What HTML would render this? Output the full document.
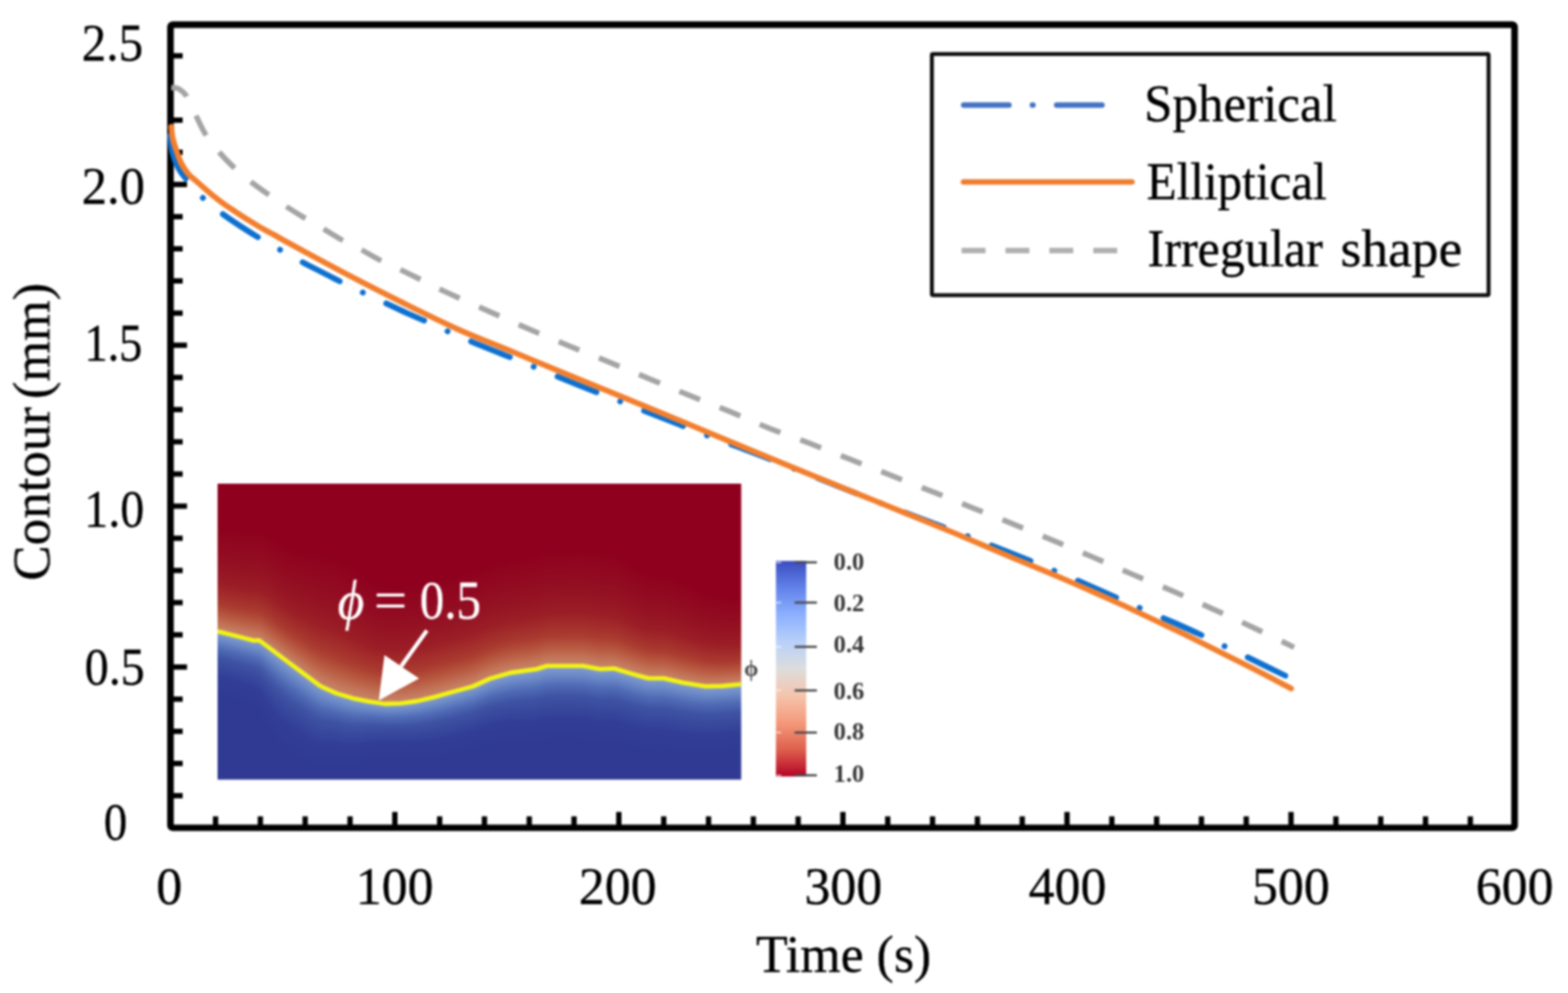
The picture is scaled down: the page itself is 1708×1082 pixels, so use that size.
<!DOCTYPE html>
<html lang="en">
<head>
<meta charset="utf-8">
<title>Contour vs Time</title>
<style>
html,body{margin:0;padding:0;background:#fff;}
body{width:1708px;height:1082px;overflow:hidden;}
svg{display:block;}
text{font-family:"Liberation Serif","DejaVu Serif",serif;fill:#000;stroke:#000;stroke-width:0.35px;}
</style>
</head>
<body>
<svg width="1708" height="1082" viewBox="0 0 1708 1082">
<rect width="1708" height="1082" fill="#fff"/>
<g id="chart" filter="url(#soft)">
<defs>
<filter id="soft" color-interpolation-filters="sRGB" filterUnits="userSpaceOnUse" x="0" y="0" width="1708" height="1082"><feGaussianBlur stdDeviation="0.85"/></filter>
<linearGradient id="tu" x1="0" x2="0" y1="1" y2="0"><stop offset="0" stop-color="#c7896e"/><stop offset="0.07" stop-color="#c3765a"/><stop offset="0.165" stop-color="#b75840"/><stop offset="0.26" stop-color="#aa3c30"/><stop offset="0.45" stop-color="#9b1e26"/><stop offset="0.63" stop-color="#941223"/><stop offset="0.82" stop-color="#910820"/><stop offset="1" stop-color="#8e001e"/></linearGradient>
<linearGradient id="td" x1="0" x2="0" y1="0" y2="1"><stop offset="0" stop-color="#869fd0"/><stop offset="0.13" stop-color="#6a88c6"/><stop offset="0.26" stop-color="#506bb6"/><stop offset="0.41" stop-color="#3e52a3"/><stop offset="0.7" stop-color="#323e96"/><stop offset="1" stop-color="#303a92"/></linearGradient>
<linearGradient id="cb" x1="0" x2="0" y1="0" y2="1"><stop offset="0" stop-color="#3b4cc0"/><stop offset="0.125" stop-color="#6282ea"/><stop offset="0.25" stop-color="#8db0fe"/><stop offset="0.375" stop-color="#b8d0f9"/><stop offset="0.5" stop-color="#dddddd"/><stop offset="0.625" stop-color="#f5c4ad"/><stop offset="0.75" stop-color="#f49a7b"/><stop offset="0.875" stop-color="#de604d"/><stop offset="1" stop-color="#b40426"/></linearGradient>
<clipPath id="ic"><rect x="237.0" y="527.0" width="570.4" height="322.6"/></clipPath>
<filter id="hb" color-interpolation-filters="sRGB" filterUnits="userSpaceOnUse" x="219.0" y="509.0" width="606.4" height="358.6"><feGaussianBlur stdDeviation="4.5 1.2"/></filter>
</defs>
<g clip-path="url(#ic)"><g filter="url(#hb)" shape-rendering="crispEdges">
<rect x="219.0" y="509.0" width="606.4" height="358.6" fill="#8e001e"/>
<path d="M219.0,867.6 L219.0,687.9 L236.9,687.9 L261.1,694.0 L276.9,698.1 L282.2,697.6 L296.3,708.1 L313.8,721.3 L331.4,734.5 L349.0,747.6 L366.5,755.5 L384.1,760.8 L401.7,764.3 L419.2,767.0 L436.8,766.4 L454.3,764.0 L471.9,759.9 L496.5,753.0 L515.0,748.0 L533.8,739.5 L556.3,733.0 L584.4,729.1 L595.7,725.6 L635.0,725.6 L653.8,729.1 L668.8,728.4 L687.6,734.0 L706.3,739.1 L723.2,739.1 L743.9,743.8 L768.2,747.9 L787.0,747.5 L807.0,745.7 L825.4,745.7 L825.4,867.6 Z" fill="#303a92"/>
<rect x="219.0" y="572.9" width="3.6" height="115.4" fill="url(#tu)"/><rect x="219.0" y="687.9" width="3.6" height="70.0" fill="url(#td)"/>
<rect x="222.0" y="572.9" width="3.6" height="115.4" fill="url(#tu)"/><rect x="222.0" y="687.9" width="3.6" height="70.0" fill="url(#td)"/>
<rect x="225.0" y="572.9" width="3.6" height="115.4" fill="url(#tu)"/><rect x="225.0" y="687.9" width="3.6" height="70.0" fill="url(#td)"/>
<rect x="228.0" y="572.9" width="3.6" height="115.4" fill="url(#tu)"/><rect x="228.0" y="687.9" width="3.6" height="70.0" fill="url(#td)"/>
<rect x="231.0" y="572.9" width="3.6" height="115.4" fill="url(#tu)"/><rect x="231.0" y="687.9" width="3.6" height="70.0" fill="url(#td)"/>
<rect x="234.0" y="572.9" width="3.6" height="115.4" fill="url(#tu)"/><rect x="234.0" y="687.9" width="3.6" height="70.0" fill="url(#td)"/>
<rect x="237.0" y="573.3" width="3.6" height="115.4" fill="url(#tu)"/><rect x="237.0" y="688.3" width="3.6" height="70.0" fill="url(#td)"/>
<rect x="240.0" y="573.9" width="3.6" height="115.5" fill="url(#tu)"/><rect x="240.0" y="689.1" width="3.6" height="70.1" fill="url(#td)"/>
<rect x="243.0" y="574.5" width="3.6" height="115.7" fill="url(#tu)"/><rect x="243.0" y="689.8" width="3.6" height="70.2" fill="url(#td)"/>
<rect x="246.0" y="574.9" width="3.6" height="116.1" fill="url(#tu)"/><rect x="246.0" y="690.6" width="3.6" height="70.5" fill="url(#td)"/>
<rect x="249.0" y="575.2" width="3.6" height="116.5" fill="url(#tu)"/><rect x="249.0" y="691.3" width="3.6" height="70.7" fill="url(#td)"/>
<rect x="252.0" y="575.5" width="3.6" height="117.0" fill="url(#tu)"/><rect x="252.0" y="692.1" width="3.6" height="71.0" fill="url(#td)"/>
<rect x="255.0" y="575.7" width="3.6" height="117.6" fill="url(#tu)"/><rect x="255.0" y="692.8" width="3.6" height="71.3" fill="url(#td)"/>
<rect x="258.0" y="575.8" width="3.6" height="118.2" fill="url(#tu)"/><rect x="258.0" y="693.6" width="3.6" height="71.5" fill="url(#td)"/>
<rect x="261.0" y="575.8" width="3.6" height="118.9" fill="url(#tu)"/><rect x="261.0" y="694.4" width="3.6" height="71.8" fill="url(#td)"/>
<rect x="264.0" y="575.9" width="3.6" height="119.7" fill="url(#tu)"/><rect x="264.0" y="695.1" width="3.6" height="71.9" fill="url(#td)"/>
<rect x="267.0" y="575.9" width="3.6" height="120.4" fill="url(#tu)"/><rect x="267.0" y="695.9" width="3.6" height="72.0" fill="url(#td)"/>
<rect x="270.0" y="576.0" width="3.6" height="121.1" fill="url(#tu)"/><rect x="270.0" y="696.7" width="3.6" height="72.1" fill="url(#td)"/>
<rect x="273.0" y="576.0" width="3.6" height="121.9" fill="url(#tu)"/><rect x="273.0" y="697.5" width="3.6" height="72.8" fill="url(#td)"/>
<rect x="276.0" y="575.9" width="3.6" height="122.6" fill="url(#tu)"/><rect x="276.0" y="698.0" width="3.6" height="74.2" fill="url(#td)"/>
<rect x="279.0" y="574.9" width="3.6" height="123.2" fill="url(#tu)"/><rect x="279.0" y="697.8" width="3.6" height="76.2" fill="url(#td)"/>
<rect x="282.0" y="575.2" width="3.6" height="123.8" fill="url(#tu)"/><rect x="282.0" y="698.6" width="3.6" height="78.6" fill="url(#td)"/>
<rect x="285.0" y="576.9" width="3.6" height="124.3" fill="url(#tu)"/><rect x="285.0" y="700.8" width="3.6" height="81.5" fill="url(#td)"/>
<rect x="288.0" y="578.7" width="3.6" height="124.7" fill="url(#tu)"/><rect x="288.0" y="703.0" width="3.6" height="84.5" fill="url(#td)"/>
<rect x="291.0" y="580.6" width="3.6" height="125.1" fill="url(#tu)"/><rect x="291.0" y="705.3" width="3.6" height="87.5" fill="url(#td)"/>
<rect x="294.0" y="582.6" width="3.6" height="125.3" fill="url(#tu)"/><rect x="294.0" y="707.5" width="3.6" height="90.4" fill="url(#td)"/>
<rect x="297.0" y="584.8" width="3.6" height="125.4" fill="url(#tu)"/><rect x="297.0" y="709.8" width="3.6" height="93.0" fill="url(#td)"/>
<rect x="300.0" y="587.0" width="3.6" height="125.4" fill="url(#tu)"/><rect x="300.0" y="712.0" width="3.6" height="95.2" fill="url(#td)"/>
<rect x="303.0" y="589.0" width="3.6" height="125.7" fill="url(#tu)"/><rect x="303.0" y="714.3" width="3.6" height="96.8" fill="url(#td)"/>
<rect x="306.0" y="590.8" width="3.6" height="126.2" fill="url(#tu)"/><rect x="306.0" y="716.5" width="3.6" height="97.8" fill="url(#td)"/>
<rect x="309.0" y="592.3" width="3.6" height="126.9" fill="url(#tu)"/><rect x="309.0" y="718.8" width="3.6" height="98.0" fill="url(#td)"/>
<rect x="312.0" y="593.6" width="3.6" height="127.9" fill="url(#tu)"/><rect x="312.0" y="721.1" width="3.6" height="97.9" fill="url(#td)"/>
<rect x="315.0" y="594.7" width="3.6" height="129.1" fill="url(#tu)"/><rect x="315.0" y="723.3" width="3.6" height="97.7" fill="url(#td)"/>
<rect x="318.0" y="595.6" width="3.6" height="130.4" fill="url(#tu)"/><rect x="318.0" y="725.6" width="3.6" height="97.3" fill="url(#td)"/>
<rect x="321.0" y="596.3" width="3.6" height="131.9" fill="url(#tu)"/><rect x="321.0" y="727.8" width="3.6" height="96.9" fill="url(#td)"/>
<rect x="324.0" y="596.9" width="3.6" height="133.5" fill="url(#tu)"/><rect x="324.0" y="730.1" width="3.6" height="96.4" fill="url(#td)"/>
<rect x="327.0" y="597.5" width="3.6" height="135.2" fill="url(#tu)"/><rect x="327.0" y="732.3" width="3.6" height="96.0" fill="url(#td)"/>
<rect x="330.0" y="598.0" width="3.6" height="137.0" fill="url(#tu)"/><rect x="330.0" y="734.6" width="3.6" height="95.6" fill="url(#td)"/>
<rect x="333.0" y="598.4" width="3.6" height="138.8" fill="url(#tu)"/><rect x="333.0" y="736.8" width="3.6" height="95.2" fill="url(#td)"/>
<rect x="336.0" y="598.9" width="3.6" height="140.6" fill="url(#tu)"/><rect x="336.0" y="739.0" width="3.6" height="95.1" fill="url(#td)"/>
<rect x="339.0" y="599.4" width="3.6" height="142.3" fill="url(#tu)"/><rect x="339.0" y="741.3" width="3.6" height="95.0" fill="url(#td)"/>
<rect x="342.0" y="600.0" width="3.6" height="143.9" fill="url(#tu)"/><rect x="342.0" y="743.5" width="3.6" height="94.4" fill="url(#td)"/>
<rect x="345.0" y="600.7" width="3.6" height="145.4" fill="url(#tu)"/><rect x="345.0" y="745.7" width="3.6" height="93.1" fill="url(#td)"/>
<rect x="348.0" y="601.5" width="3.6" height="146.7" fill="url(#tu)"/><rect x="348.0" y="747.8" width="3.6" height="91.1" fill="url(#td)"/>
<rect x="351.0" y="601.7" width="3.6" height="147.9" fill="url(#tu)"/><rect x="351.0" y="749.2" width="3.6" height="88.7" fill="url(#td)"/>
<rect x="354.0" y="602.1" width="3.6" height="148.9" fill="url(#tu)"/><rect x="354.0" y="750.5" width="3.6" height="86.1" fill="url(#td)"/>
<rect x="357.0" y="602.7" width="3.6" height="149.6" fill="url(#tu)"/><rect x="357.0" y="751.9" width="3.6" height="83.5" fill="url(#td)"/>
<rect x="360.0" y="603.5" width="3.6" height="150.1" fill="url(#tu)"/><rect x="360.0" y="753.2" width="3.6" height="81.2" fill="url(#td)"/>
<rect x="363.0" y="604.6" width="3.6" height="150.4" fill="url(#tu)"/><rect x="363.0" y="754.6" width="3.6" height="79.4" fill="url(#td)"/>
<rect x="366.0" y="605.8" width="3.6" height="150.4" fill="url(#tu)"/><rect x="366.0" y="755.8" width="3.6" height="78.3" fill="url(#td)"/>
<rect x="369.0" y="607.0" width="3.6" height="150.1" fill="url(#tu)"/><rect x="369.0" y="756.7" width="3.6" height="78.0" fill="url(#td)"/>
<rect x="372.0" y="608.5" width="3.6" height="149.5" fill="url(#tu)"/><rect x="372.0" y="757.6" width="3.6" height="77.8" fill="url(#td)"/>
<rect x="375.0" y="610.3" width="3.6" height="148.6" fill="url(#tu)"/><rect x="375.0" y="758.5" width="3.6" height="77.3" fill="url(#td)"/>
<rect x="378.0" y="612.3" width="3.6" height="147.5" fill="url(#tu)"/><rect x="378.0" y="759.4" width="3.6" height="76.4" fill="url(#td)"/>
<rect x="381.0" y="614.6" width="3.6" height="146.1" fill="url(#tu)"/><rect x="381.0" y="760.3" width="3.6" height="75.4" fill="url(#td)"/>
<rect x="384.0" y="616.9" width="3.6" height="144.6" fill="url(#tu)"/><rect x="384.0" y="761.1" width="3.6" height="74.1" fill="url(#td)"/>
<rect x="387.0" y="619.1" width="3.6" height="143.0" fill="url(#tu)"/><rect x="387.0" y="761.7" width="3.6" height="72.6" fill="url(#td)"/>
<rect x="390.0" y="621.4" width="3.6" height="141.3" fill="url(#tu)"/><rect x="390.0" y="762.3" width="3.6" height="71.0" fill="url(#td)"/>
<rect x="393.0" y="623.7" width="3.6" height="139.5" fill="url(#tu)"/><rect x="393.0" y="762.9" width="3.6" height="69.3" fill="url(#td)"/>
<rect x="396.0" y="626.1" width="3.6" height="137.8" fill="url(#tu)"/><rect x="396.0" y="763.5" width="3.6" height="67.6" fill="url(#td)"/>
<rect x="399.0" y="628.3" width="3.6" height="136.2" fill="url(#tu)"/><rect x="399.0" y="764.1" width="3.6" height="66.0" fill="url(#td)"/>
<rect x="402.0" y="630.3" width="3.6" height="134.7" fill="url(#tu)"/><rect x="402.0" y="764.6" width="3.6" height="64.4" fill="url(#td)"/>
<rect x="405.0" y="632.1" width="3.6" height="133.3" fill="url(#tu)"/><rect x="405.0" y="765.0" width="3.6" height="63.0" fill="url(#td)"/>
<rect x="408.0" y="633.7" width="3.6" height="132.2" fill="url(#tu)"/><rect x="408.0" y="765.5" width="3.6" height="61.9" fill="url(#td)"/>
<rect x="411.0" y="635.0" width="3.6" height="131.3" fill="url(#tu)"/><rect x="411.0" y="766.0" width="3.6" height="61.0" fill="url(#td)"/>
<rect x="414.0" y="636.1" width="3.6" height="130.7" fill="url(#tu)"/><rect x="414.0" y="766.4" width="3.6" height="60.4" fill="url(#td)"/>
<rect x="417.0" y="636.9" width="3.6" height="130.4" fill="url(#tu)"/><rect x="417.0" y="766.9" width="3.6" height="60.0" fill="url(#td)"/>
<rect x="420.0" y="636.9" width="3.6" height="130.4" fill="url(#tu)"/><rect x="420.0" y="766.9" width="3.6" height="60.0" fill="url(#td)"/>
<rect x="423.0" y="636.8" width="3.6" height="130.4" fill="url(#tu)"/><rect x="423.0" y="766.8" width="3.6" height="60.1" fill="url(#td)"/>
<rect x="426.0" y="636.8" width="3.6" height="130.4" fill="url(#tu)"/><rect x="426.0" y="766.7" width="3.6" height="60.2" fill="url(#td)"/>
<rect x="429.0" y="636.7" width="3.6" height="130.3" fill="url(#tu)"/><rect x="429.0" y="766.6" width="3.6" height="60.4" fill="url(#td)"/>
<rect x="432.0" y="636.6" width="3.6" height="130.3" fill="url(#tu)"/><rect x="432.0" y="766.5" width="3.6" height="60.7" fill="url(#td)"/>
<rect x="435.0" y="636.6" width="3.6" height="130.2" fill="url(#tu)"/><rect x="435.0" y="766.4" width="3.6" height="61.0" fill="url(#td)"/>
<rect x="438.0" y="636.3" width="3.6" height="130.1" fill="url(#tu)"/><rect x="438.0" y="766.0" width="3.6" height="61.4" fill="url(#td)"/>
<rect x="441.0" y="636.0" width="3.6" height="130.0" fill="url(#tu)"/><rect x="441.0" y="765.6" width="3.6" height="61.8" fill="url(#td)"/>
<rect x="444.0" y="635.7" width="3.6" height="129.9" fill="url(#tu)"/><rect x="444.0" y="765.2" width="3.6" height="62.3" fill="url(#td)"/>
<rect x="447.0" y="635.4" width="3.6" height="129.8" fill="url(#tu)"/><rect x="447.0" y="764.8" width="3.6" height="62.8" fill="url(#td)"/>
<rect x="450.0" y="635.1" width="3.6" height="129.7" fill="url(#tu)"/><rect x="450.0" y="764.4" width="3.6" height="63.4" fill="url(#td)"/>
<rect x="453.0" y="634.7" width="3.6" height="129.6" fill="url(#tu)"/><rect x="453.0" y="764.0" width="3.6" height="63.9" fill="url(#td)"/>
<rect x="456.0" y="634.2" width="3.6" height="129.5" fill="url(#tu)"/><rect x="456.0" y="763.3" width="3.6" height="64.5" fill="url(#td)"/>
<rect x="459.0" y="633.6" width="3.6" height="129.4" fill="url(#tu)"/><rect x="459.0" y="762.6" width="3.6" height="65.1" fill="url(#td)"/>
<rect x="462.0" y="633.0" width="3.6" height="129.3" fill="url(#tu)"/><rect x="462.0" y="761.9" width="3.6" height="65.7" fill="url(#td)"/>
<rect x="465.0" y="632.4" width="3.6" height="129.1" fill="url(#tu)"/><rect x="465.0" y="761.2" width="3.6" height="66.3" fill="url(#td)"/>
<rect x="468.0" y="631.8" width="3.6" height="129.0" fill="url(#tu)"/><rect x="468.0" y="760.5" width="3.6" height="66.8" fill="url(#td)"/>
<rect x="471.0" y="631.2" width="3.6" height="128.9" fill="url(#tu)"/><rect x="471.0" y="759.7" width="3.6" height="67.4" fill="url(#td)"/>
<rect x="474.0" y="630.5" width="3.6" height="128.8" fill="url(#tu)"/><rect x="474.0" y="758.9" width="3.6" height="67.9" fill="url(#td)"/>
<rect x="477.0" y="629.7" width="3.6" height="128.7" fill="url(#tu)"/><rect x="477.0" y="758.0" width="3.6" height="68.3" fill="url(#td)"/>
<rect x="480.0" y="629.0" width="3.6" height="128.7" fill="url(#tu)"/><rect x="480.0" y="757.2" width="3.6" height="68.7" fill="url(#td)"/>
<rect x="483.0" y="628.2" width="3.6" height="128.6" fill="url(#tu)"/><rect x="483.0" y="756.4" width="3.6" height="69.1" fill="url(#td)"/>
<rect x="486.0" y="627.4" width="3.6" height="128.5" fill="url(#tu)"/><rect x="486.0" y="755.5" width="3.6" height="69.4" fill="url(#td)"/>
<rect x="489.0" y="626.6" width="3.6" height="128.5" fill="url(#tu)"/><rect x="489.0" y="754.7" width="3.6" height="69.7" fill="url(#td)"/>
<rect x="492.0" y="625.8" width="3.6" height="128.4" fill="url(#tu)"/><rect x="492.0" y="753.8" width="3.6" height="69.8" fill="url(#td)"/>
<rect x="495.0" y="625.0" width="3.6" height="128.4" fill="url(#tu)"/><rect x="495.0" y="753.0" width="3.6" height="70.0" fill="url(#td)"/>
<rect x="498.0" y="624.2" width="3.6" height="128.4" fill="url(#tu)"/><rect x="498.0" y="752.2" width="3.6" height="70.0" fill="url(#td)"/>
<rect x="501.0" y="623.4" width="3.6" height="128.4" fill="url(#tu)"/><rect x="501.0" y="751.4" width="3.6" height="70.0" fill="url(#td)"/>
<rect x="504.0" y="622.6" width="3.6" height="128.4" fill="url(#tu)"/><rect x="504.0" y="750.6" width="3.6" height="70.1" fill="url(#td)"/>
<rect x="507.0" y="621.9" width="3.6" height="128.3" fill="url(#tu)"/><rect x="507.0" y="749.8" width="3.6" height="70.2" fill="url(#td)"/>
<rect x="510.0" y="621.1" width="3.6" height="128.2" fill="url(#tu)"/><rect x="510.0" y="748.9" width="3.6" height="70.4" fill="url(#td)"/>
<rect x="513.0" y="620.4" width="3.6" height="128.1" fill="url(#tu)"/><rect x="513.0" y="748.1" width="3.6" height="70.6" fill="url(#td)"/>
<rect x="516.0" y="619.3" width="3.6" height="128.0" fill="url(#tu)"/><rect x="516.0" y="746.9" width="3.6" height="70.9" fill="url(#td)"/>
<rect x="519.0" y="618.0" width="3.6" height="127.9" fill="url(#tu)"/><rect x="519.0" y="745.5" width="3.6" height="71.2" fill="url(#td)"/>
<rect x="522.0" y="616.8" width="3.6" height="127.7" fill="url(#tu)"/><rect x="522.0" y="744.2" width="3.6" height="71.6" fill="url(#td)"/>
<rect x="525.0" y="615.6" width="3.6" height="127.6" fill="url(#tu)"/><rect x="525.0" y="742.8" width="3.6" height="72.0" fill="url(#td)"/>
<rect x="528.0" y="614.4" width="3.6" height="127.4" fill="url(#tu)"/><rect x="528.0" y="741.4" width="3.6" height="72.4" fill="url(#td)"/>
<rect x="531.0" y="613.2" width="3.6" height="127.3" fill="url(#tu)"/><rect x="531.0" y="740.1" width="3.6" height="72.9" fill="url(#td)"/>
<rect x="534.0" y="612.3" width="3.6" height="127.1" fill="url(#tu)"/><rect x="534.0" y="739.0" width="3.6" height="73.4" fill="url(#td)"/>
<rect x="537.0" y="611.6" width="3.6" height="127.0" fill="url(#tu)"/><rect x="537.0" y="738.1" width="3.6" height="73.9" fill="url(#td)"/>
<rect x="540.0" y="610.8" width="3.6" height="126.8" fill="url(#tu)"/><rect x="540.0" y="737.3" width="3.6" height="74.4" fill="url(#td)"/>
<rect x="543.0" y="610.1" width="3.6" height="126.7" fill="url(#tu)"/><rect x="543.0" y="736.4" width="3.6" height="75.0" fill="url(#td)"/>
<rect x="546.0" y="609.3" width="3.6" height="126.6" fill="url(#tu)"/><rect x="546.0" y="735.5" width="3.6" height="75.5" fill="url(#td)"/>
<rect x="549.0" y="608.6" width="3.6" height="126.5" fill="url(#tu)"/><rect x="549.0" y="734.7" width="3.6" height="76.1" fill="url(#td)"/>
<rect x="552.0" y="607.8" width="3.6" height="126.5" fill="url(#tu)"/><rect x="552.0" y="733.8" width="3.6" height="76.7" fill="url(#td)"/>
<rect x="555.0" y="607.0" width="3.6" height="126.4" fill="url(#tu)"/><rect x="555.0" y="733.0" width="3.6" height="77.2" fill="url(#td)"/>
<rect x="558.0" y="606.6" width="3.6" height="126.4" fill="url(#tu)"/><rect x="558.0" y="732.6" width="3.6" height="77.8" fill="url(#td)"/>
<rect x="561.0" y="606.1" width="3.6" height="126.4" fill="url(#tu)"/><rect x="561.0" y="732.1" width="3.6" height="78.3" fill="url(#td)"/>
<rect x="564.0" y="605.7" width="3.6" height="126.4" fill="url(#tu)"/><rect x="564.0" y="731.7" width="3.6" height="78.8" fill="url(#td)"/>
<rect x="567.0" y="605.2" width="3.6" height="126.5" fill="url(#tu)"/><rect x="567.0" y="731.3" width="3.6" height="79.3" fill="url(#td)"/>
<rect x="570.0" y="604.7" width="3.6" height="126.6" fill="url(#tu)"/><rect x="570.0" y="730.9" width="3.6" height="79.8" fill="url(#td)"/>
<rect x="573.0" y="604.2" width="3.6" height="126.7" fill="url(#tu)"/><rect x="573.0" y="730.5" width="3.6" height="80.2" fill="url(#td)"/>
<rect x="576.0" y="603.7" width="3.6" height="126.8" fill="url(#tu)"/><rect x="576.0" y="730.1" width="3.6" height="80.6" fill="url(#td)"/>
<rect x="579.0" y="603.2" width="3.6" height="126.9" fill="url(#tu)"/><rect x="579.0" y="729.6" width="3.6" height="80.9" fill="url(#td)"/>
<rect x="582.0" y="602.6" width="3.6" height="127.0" fill="url(#tu)"/><rect x="582.0" y="729.2" width="3.6" height="81.2" fill="url(#td)"/>
<rect x="585.0" y="601.7" width="3.6" height="127.2" fill="url(#tu)"/><rect x="585.0" y="728.4" width="3.6" height="81.5" fill="url(#td)"/>
<rect x="588.0" y="600.6" width="3.6" height="127.4" fill="url(#tu)"/><rect x="588.0" y="727.5" width="3.6" height="81.7" fill="url(#td)"/>
<rect x="591.0" y="599.4" width="3.6" height="127.6" fill="url(#tu)"/><rect x="591.0" y="726.6" width="3.6" height="81.8" fill="url(#td)"/>
<rect x="594.0" y="598.3" width="3.6" height="127.7" fill="url(#tu)"/><rect x="594.0" y="725.7" width="3.6" height="81.9" fill="url(#td)"/>
<rect x="597.0" y="598.0" width="3.6" height="128.0" fill="url(#tu)"/><rect x="597.0" y="725.6" width="3.6" height="82.0" fill="url(#td)"/>
<rect x="600.0" y="597.8" width="3.6" height="128.2" fill="url(#tu)"/><rect x="600.0" y="725.6" width="3.6" height="82.0" fill="url(#td)"/>
<rect x="603.0" y="597.6" width="3.6" height="128.4" fill="url(#tu)"/><rect x="603.0" y="725.6" width="3.6" height="82.0" fill="url(#td)"/>
<rect x="606.0" y="597.4" width="3.6" height="128.6" fill="url(#tu)"/><rect x="606.0" y="725.6" width="3.6" height="82.0" fill="url(#td)"/>
<rect x="609.0" y="597.2" width="3.6" height="128.8" fill="url(#tu)"/><rect x="609.0" y="725.6" width="3.6" height="82.0" fill="url(#td)"/>
<rect x="612.0" y="597.0" width="3.6" height="129.0" fill="url(#tu)"/><rect x="612.0" y="725.6" width="3.6" height="82.0" fill="url(#td)"/>
<rect x="615.0" y="596.8" width="3.6" height="129.2" fill="url(#tu)"/><rect x="615.0" y="725.6" width="3.6" height="82.0" fill="url(#td)"/>
<rect x="618.0" y="596.6" width="3.6" height="129.4" fill="url(#tu)"/><rect x="618.0" y="725.6" width="3.6" height="82.0" fill="url(#td)"/>
<rect x="621.0" y="596.5" width="3.6" height="129.5" fill="url(#tu)"/><rect x="621.0" y="725.6" width="3.6" height="82.0" fill="url(#td)"/>
<rect x="624.0" y="596.3" width="3.6" height="129.7" fill="url(#tu)"/><rect x="624.0" y="725.6" width="3.6" height="82.0" fill="url(#td)"/>
<rect x="627.0" y="596.1" width="3.6" height="129.9" fill="url(#tu)"/><rect x="627.0" y="725.6" width="3.6" height="82.0" fill="url(#td)"/>
<rect x="630.0" y="596.0" width="3.6" height="130.0" fill="url(#tu)"/><rect x="630.0" y="725.6" width="3.6" height="82.0" fill="url(#td)"/>
<rect x="633.0" y="595.9" width="3.6" height="130.1" fill="url(#tu)"/><rect x="633.0" y="725.6" width="3.6" height="82.0" fill="url(#td)"/>
<rect x="636.0" y="596.3" width="3.6" height="130.2" fill="url(#tu)"/><rect x="636.0" y="726.1" width="3.6" height="82.0" fill="url(#td)"/>
<rect x="639.0" y="596.7" width="3.6" height="130.3" fill="url(#tu)"/><rect x="639.0" y="726.6" width="3.6" height="82.0" fill="url(#td)"/>
<rect x="642.0" y="597.2" width="3.6" height="130.3" fill="url(#tu)"/><rect x="642.0" y="727.2" width="3.6" height="82.0" fill="url(#td)"/>
<rect x="645.0" y="597.8" width="3.6" height="130.4" fill="url(#tu)"/><rect x="645.0" y="727.7" width="3.6" height="82.0" fill="url(#td)"/>
<rect x="648.0" y="598.3" width="3.6" height="130.4" fill="url(#tu)"/><rect x="648.0" y="728.3" width="3.6" height="82.0" fill="url(#td)"/>
<rect x="651.0" y="598.9" width="3.6" height="130.4" fill="url(#tu)"/><rect x="651.0" y="728.9" width="3.6" height="82.0" fill="url(#td)"/>
<rect x="654.0" y="599.2" width="3.6" height="130.2" fill="url(#tu)"/><rect x="654.0" y="729.0" width="3.6" height="82.0" fill="url(#td)"/>
<rect x="657.0" y="599.4" width="3.6" height="129.9" fill="url(#tu)"/><rect x="657.0" y="728.9" width="3.6" height="82.0" fill="url(#td)"/>
<rect x="660.0" y="599.7" width="3.6" height="129.4" fill="url(#tu)"/><rect x="660.0" y="728.7" width="3.6" height="82.0" fill="url(#td)"/>
<rect x="663.0" y="600.1" width="3.6" height="128.9" fill="url(#tu)"/><rect x="663.0" y="728.6" width="3.6" height="82.0" fill="url(#td)"/>
<rect x="666.0" y="600.7" width="3.6" height="128.2" fill="url(#tu)"/><rect x="666.0" y="728.5" width="3.6" height="82.0" fill="url(#td)"/>
<rect x="669.0" y="601.9" width="3.6" height="127.4" fill="url(#tu)"/><rect x="669.0" y="728.9" width="3.6" height="82.0" fill="url(#td)"/>
<rect x="672.0" y="603.6" width="3.6" height="126.6" fill="url(#tu)"/><rect x="672.0" y="729.8" width="3.6" height="82.0" fill="url(#td)"/>
<rect x="675.0" y="605.4" width="3.6" height="125.7" fill="url(#tu)"/><rect x="675.0" y="730.7" width="3.6" height="82.0" fill="url(#td)"/>
<rect x="678.0" y="607.3" width="3.6" height="124.7" fill="url(#tu)"/><rect x="678.0" y="731.6" width="3.6" height="82.0" fill="url(#td)"/>
<rect x="681.0" y="609.1" width="3.6" height="123.7" fill="url(#tu)"/><rect x="681.0" y="732.5" width="3.6" height="82.0" fill="url(#td)"/>
<rect x="684.0" y="611.0" width="3.6" height="122.7" fill="url(#tu)"/><rect x="684.0" y="733.4" width="3.6" height="82.0" fill="url(#td)"/>
<rect x="687.0" y="612.9" width="3.6" height="121.7" fill="url(#tu)"/><rect x="687.0" y="734.2" width="3.6" height="82.0" fill="url(#td)"/>
<rect x="690.0" y="614.7" width="3.6" height="120.7" fill="url(#tu)"/><rect x="690.0" y="735.1" width="3.6" height="82.0" fill="url(#td)"/>
<rect x="693.0" y="616.5" width="3.6" height="119.8" fill="url(#tu)"/><rect x="693.0" y="735.9" width="3.6" height="82.0" fill="url(#td)"/>
<rect x="696.0" y="618.2" width="3.6" height="118.9" fill="url(#tu)"/><rect x="696.0" y="736.7" width="3.6" height="82.0" fill="url(#td)"/>
<rect x="699.0" y="619.8" width="3.6" height="118.1" fill="url(#tu)"/><rect x="699.0" y="737.5" width="3.6" height="82.0" fill="url(#td)"/>
<rect x="702.0" y="621.4" width="3.6" height="117.4" fill="url(#tu)"/><rect x="702.0" y="738.3" width="3.6" height="82.0" fill="url(#td)"/>
<rect x="705.0" y="622.8" width="3.6" height="116.7" fill="url(#tu)"/><rect x="705.0" y="739.1" width="3.6" height="81.9" fill="url(#td)"/>
<rect x="708.0" y="623.3" width="3.6" height="116.2" fill="url(#tu)"/><rect x="708.0" y="739.1" width="3.6" height="81.9" fill="url(#td)"/>
<rect x="711.0" y="623.7" width="3.6" height="115.8" fill="url(#tu)"/><rect x="711.0" y="739.1" width="3.6" height="81.8" fill="url(#td)"/>
<rect x="714.0" y="623.9" width="3.6" height="115.6" fill="url(#tu)"/><rect x="714.0" y="739.1" width="3.6" height="81.6" fill="url(#td)"/>
<rect x="717.0" y="624.1" width="3.6" height="115.4" fill="url(#tu)"/><rect x="717.0" y="739.1" width="3.6" height="81.5" fill="url(#td)"/>
<rect x="720.0" y="624.1" width="3.6" height="115.4" fill="url(#tu)"/><rect x="720.0" y="739.1" width="3.6" height="81.3" fill="url(#td)"/>
<rect x="723.0" y="624.5" width="3.6" height="115.3" fill="url(#tu)"/><rect x="723.0" y="739.4" width="3.6" height="81.1" fill="url(#td)"/>
<rect x="726.0" y="625.4" width="3.6" height="115.1" fill="url(#tu)"/><rect x="726.0" y="740.1" width="3.6" height="80.9" fill="url(#td)"/>
<rect x="729.0" y="626.4" width="3.6" height="114.7" fill="url(#tu)"/><rect x="729.0" y="740.8" width="3.6" height="80.7" fill="url(#td)"/>
<rect x="732.0" y="627.5" width="3.6" height="114.3" fill="url(#tu)"/><rect x="732.0" y="741.4" width="3.6" height="80.4" fill="url(#td)"/>
<rect x="735.0" y="628.8" width="3.6" height="113.8" fill="url(#tu)"/><rect x="735.0" y="742.1" width="3.6" height="80.2" fill="url(#td)"/>
<rect x="738.0" y="630.1" width="3.6" height="113.1" fill="url(#tu)"/><rect x="738.0" y="742.8" width="3.6" height="79.9" fill="url(#td)"/>
<rect x="741.0" y="631.4" width="3.6" height="112.4" fill="url(#tu)"/><rect x="741.0" y="743.5" width="3.6" height="79.6" fill="url(#td)"/>
<rect x="744.0" y="632.8" width="3.6" height="111.6" fill="url(#tu)"/><rect x="744.0" y="744.1" width="3.6" height="79.3" fill="url(#td)"/>
<rect x="747.0" y="634.2" width="3.6" height="110.8" fill="url(#tu)"/><rect x="747.0" y="744.6" width="3.6" height="79.0" fill="url(#td)"/>
<rect x="750.0" y="635.6" width="3.6" height="109.9" fill="url(#tu)"/><rect x="750.0" y="745.1" width="3.6" height="78.7" fill="url(#td)"/>
<rect x="753.0" y="637.1" width="3.6" height="108.9" fill="url(#tu)"/><rect x="753.0" y="745.6" width="3.6" height="78.4" fill="url(#td)"/>
<rect x="756.0" y="638.6" width="3.6" height="107.9" fill="url(#tu)"/><rect x="756.0" y="746.1" width="3.6" height="78.1" fill="url(#td)"/>
<rect x="759.0" y="640.1" width="3.6" height="106.9" fill="url(#tu)"/><rect x="759.0" y="746.6" width="3.6" height="77.8" fill="url(#td)"/>
<rect x="762.0" y="641.6" width="3.6" height="105.9" fill="url(#tu)"/><rect x="762.0" y="747.1" width="3.6" height="77.5" fill="url(#td)"/>
<rect x="765.0" y="643.1" width="3.6" height="104.9" fill="url(#tu)"/><rect x="765.0" y="747.6" width="3.6" height="77.2" fill="url(#td)"/>
<rect x="768.0" y="644.4" width="3.6" height="103.9" fill="url(#tu)"/><rect x="768.0" y="747.9" width="3.6" height="76.9" fill="url(#td)"/>
<rect x="771.0" y="645.3" width="3.6" height="102.9" fill="url(#tu)"/><rect x="771.0" y="747.8" width="3.6" height="76.6" fill="url(#td)"/>
<rect x="774.0" y="646.2" width="3.6" height="101.9" fill="url(#tu)"/><rect x="774.0" y="747.7" width="3.6" height="76.4" fill="url(#td)"/>
<rect x="777.0" y="647.1" width="3.6" height="101.0" fill="url(#tu)"/><rect x="777.0" y="747.7" width="3.6" height="76.2" fill="url(#td)"/>
<rect x="780.0" y="647.9" width="3.6" height="100.2" fill="url(#tu)"/><rect x="780.0" y="747.6" width="3.6" height="75.9" fill="url(#td)"/>
<rect x="783.0" y="648.6" width="3.6" height="99.4" fill="url(#tu)"/><rect x="783.0" y="747.6" width="3.6" height="75.7" fill="url(#td)"/>
<rect x="786.0" y="649.2" width="3.6" height="98.7" fill="url(#tu)"/><rect x="786.0" y="747.5" width="3.6" height="75.6" fill="url(#td)"/>
<rect x="789.0" y="649.5" width="3.6" height="98.0" fill="url(#tu)"/><rect x="789.0" y="747.2" width="3.6" height="75.4" fill="url(#td)"/>
<rect x="792.0" y="649.8" width="3.6" height="97.5" fill="url(#tu)"/><rect x="792.0" y="746.9" width="3.6" height="75.3" fill="url(#td)"/>
<rect x="795.0" y="650.0" width="3.6" height="97.1" fill="url(#tu)"/><rect x="795.0" y="746.6" width="3.6" height="75.2" fill="url(#td)"/>
<rect x="798.0" y="650.0" width="3.6" height="96.7" fill="url(#tu)"/><rect x="798.0" y="746.4" width="3.6" height="75.1" fill="url(#td)"/>
<rect x="801.0" y="650.0" width="3.6" height="96.5" fill="url(#tu)"/><rect x="801.0" y="746.1" width="3.6" height="75.0" fill="url(#td)"/>
<rect x="804.0" y="649.8" width="3.6" height="96.4" fill="url(#tu)"/><rect x="804.0" y="745.8" width="3.6" height="75.0" fill="url(#td)"/>
<rect x="807.0" y="649.7" width="3.6" height="96.4" fill="url(#tu)"/><rect x="807.0" y="745.7" width="3.6" height="75.0" fill="url(#td)"/>
<rect x="810.0" y="649.7" width="3.6" height="96.4" fill="url(#tu)"/><rect x="810.0" y="745.7" width="3.6" height="75.0" fill="url(#td)"/>
<rect x="813.0" y="649.7" width="3.6" height="96.4" fill="url(#tu)"/><rect x="813.0" y="745.7" width="3.6" height="75.0" fill="url(#td)"/>
<rect x="816.0" y="649.7" width="3.6" height="96.4" fill="url(#tu)"/><rect x="816.0" y="745.7" width="3.6" height="75.0" fill="url(#td)"/>
<rect x="819.0" y="649.7" width="3.6" height="96.4" fill="url(#tu)"/><rect x="819.0" y="745.7" width="3.6" height="75.0" fill="url(#td)"/>
<rect x="822.0" y="649.7" width="3.4" height="96.4" fill="url(#tu)"/><rect x="822.0" y="745.7" width="3.4" height="75.0" fill="url(#td)"/>
<rect x="825.0" y="649.7" width="0.4" height="96.4" fill="url(#tu)"/><rect x="825.0" y="745.7" width="0.4" height="75.0" fill="url(#td)"/>
</g></g>
<g clip-path="url(#ic)">
<polyline points="236.9,687.9 261.1,694.0 276.9,698.1 282.2,697.6 296.3,708.1 313.8,721.3 331.4,734.5 349.0,747.6 366.5,755.5 384.1,760.8 401.7,764.3 419.2,767.0 436.8,766.4 454.3,764.0 471.9,759.9 496.5,753.0 515.0,748.0 533.8,739.5 556.3,733.0 584.4,729.1 595.7,725.6 635.0,725.6 653.8,729.1 668.8,728.4 687.6,734.0 706.3,739.1 723.2,739.1 743.9,743.8 768.2,747.9 787.0,747.5 807.0,745.7" fill="none" stroke="#f0f216" stroke-width="4.8" stroke-linejoin="round"/>
</g>
<line x1="465" y1="687" x2="437" y2="726" stroke="#fff" stroke-width="4.5"/>
<polygon points="412.6,763.2 418.8,713.8 456.5,739.3" fill="#fff"/>
<text y="674.2" font-size="59.5" style="fill:#fff;stroke:#fff;stroke-width:0.3px"><tspan x="367.69" textLength="29.03" lengthAdjust="spacingAndGlyphs" font-style="italic">ϕ</tspan> <tspan x="407.58" textLength="35.78" lengthAdjust="spacingAndGlyphs">=</tspan> <tspan x="457.24" textLength="66.84" lengthAdjust="spacingAndGlyphs">0.5</tspan></text>
<rect x="845.2" y="611.2" width="33" height="234.9" fill="url(#cb)"/>
<line x1="865.6" y1="612.8" x2="889.8" y2="612.8" stroke="#4a4a4a" stroke-width="2.4"/><line x1="845.4" y1="612.8" x2="851" y2="612.8" stroke="#fff" stroke-width="1.5" opacity="0.7"/>
<line x1="865.6" y1="656.6" x2="889.8" y2="656.6" stroke="#4a4a4a" stroke-width="2.4"/><line x1="845.4" y1="656.6" x2="851" y2="656.6" stroke="#fff" stroke-width="1.5" opacity="0.7"/>
<line x1="865.6" y1="704.8" x2="889.8" y2="704.8" stroke="#4a4a4a" stroke-width="2.4"/><line x1="845.4" y1="704.8" x2="851" y2="704.8" stroke="#fff" stroke-width="1.5" opacity="0.7"/>
<line x1="865.6" y1="752.3" x2="889.8" y2="752.3" stroke="#4a4a4a" stroke-width="2.4"/><line x1="845.4" y1="752.3" x2="851" y2="752.3" stroke="#fff" stroke-width="1.5" opacity="0.7"/>
<line x1="865.6" y1="798.2" x2="889.8" y2="798.2" stroke="#4a4a4a" stroke-width="2.4"/><line x1="845.4" y1="798.2" x2="851" y2="798.2" stroke="#fff" stroke-width="1.5" opacity="0.7"/>
<line x1="865.6" y1="844.8" x2="889.8" y2="844.8" stroke="#4a4a4a" stroke-width="2.4"/><line x1="845.4" y1="844.8" x2="851" y2="844.8" stroke="#fff" stroke-width="1.5" opacity="0.7"/>
<g font-size="26.8" font-weight="bold">
<text x="908.0" y="621.1" style="fill:#383838;stroke:none">0.0</text>
<text x="908.0" y="666.2" style="fill:#383838;stroke:none">0.2</text>
<text x="908.0" y="711.3" style="fill:#383838;stroke:none">0.4</text>
<text x="908.0" y="761.6" style="fill:#383838;stroke:none">0.6</text>
<text x="908.0" y="805.9" style="fill:#383838;stroke:none">0.8</text>
<text x="908.0" y="851.8" style="fill:#383838;stroke:none">1.0</text>
</g>
<text x="818.3" y="737" font-size="25" font-weight="bold" text-anchor="middle" style="fill:#4a4a4a;stroke:none">ϕ</text>
<g stroke="#000" fill="none">
<rect x="185.7" y="26.8" width="1464.1" height="875.2" rx="2.5" stroke-width="7.2" stroke-linejoin="round"/>
<line x1="185.7" y1="867.0" x2="199.0" y2="867.0" stroke-width="5.8"/>
<line x1="185.7" y1="831.9" x2="199.0" y2="831.9" stroke-width="5.8"/>
<line x1="185.7" y1="796.9" x2="199.0" y2="796.9" stroke-width="5.8"/>
<line x1="185.7" y1="761.8" x2="199.0" y2="761.8" stroke-width="5.8"/>
<line x1="185.7" y1="726.8" x2="203.7" y2="726.8" stroke-width="5.8"/>
<line x1="185.7" y1="691.7" x2="199.0" y2="691.7" stroke-width="5.8"/>
<line x1="185.7" y1="656.6" x2="199.0" y2="656.6" stroke-width="5.8"/>
<line x1="185.7" y1="621.6" x2="199.0" y2="621.6" stroke-width="5.8"/>
<line x1="185.7" y1="586.5" x2="199.0" y2="586.5" stroke-width="5.8"/>
<line x1="185.7" y1="551.5" x2="203.7" y2="551.5" stroke-width="5.8"/>
<line x1="185.7" y1="516.5" x2="199.0" y2="516.5" stroke-width="5.8"/>
<line x1="185.7" y1="481.4" x2="199.0" y2="481.4" stroke-width="5.8"/>
<line x1="185.7" y1="446.3" x2="199.0" y2="446.3" stroke-width="5.8"/>
<line x1="185.7" y1="411.3" x2="199.0" y2="411.3" stroke-width="5.8"/>
<line x1="185.7" y1="376.2" x2="203.7" y2="376.2" stroke-width="5.8"/>
<line x1="185.7" y1="341.2" x2="199.0" y2="341.2" stroke-width="5.8"/>
<line x1="185.7" y1="306.1" x2="199.0" y2="306.1" stroke-width="5.8"/>
<line x1="185.7" y1="271.1" x2="199.0" y2="271.1" stroke-width="5.8"/>
<line x1="185.7" y1="236.1" x2="199.0" y2="236.1" stroke-width="5.8"/>
<line x1="185.7" y1="201.0" x2="203.7" y2="201.0" stroke-width="5.8"/>
<line x1="185.7" y1="165.9" x2="199.0" y2="165.9" stroke-width="5.8"/>
<line x1="185.7" y1="130.9" x2="199.0" y2="130.9" stroke-width="5.8"/>
<line x1="185.7" y1="60.8" x2="199.0" y2="60.8" stroke-width="5.8"/>
<line x1="234.8" y1="902.0" x2="234.8" y2="889.5" stroke-width="5.8"/>
<line x1="283.6" y1="902.0" x2="283.6" y2="889.5" stroke-width="5.8"/>
<line x1="332.4" y1="902.0" x2="332.4" y2="889.5" stroke-width="5.8"/>
<line x1="381.3" y1="902.0" x2="381.3" y2="889.5" stroke-width="5.8"/>
<line x1="430.1" y1="902.0" x2="430.1" y2="884.7" stroke-width="5.8"/>
<line x1="478.9" y1="902.0" x2="478.9" y2="889.5" stroke-width="5.8"/>
<line x1="527.7" y1="902.0" x2="527.7" y2="889.5" stroke-width="5.8"/>
<line x1="576.5" y1="902.0" x2="576.5" y2="889.5" stroke-width="5.8"/>
<line x1="625.3" y1="902.0" x2="625.3" y2="889.5" stroke-width="5.8"/>
<line x1="674.1" y1="902.0" x2="674.1" y2="884.7" stroke-width="5.8"/>
<line x1="723.0" y1="902.0" x2="723.0" y2="889.5" stroke-width="5.8"/>
<line x1="771.8" y1="902.0" x2="771.8" y2="889.5" stroke-width="5.8"/>
<line x1="820.6" y1="902.0" x2="820.6" y2="889.5" stroke-width="5.8"/>
<line x1="869.4" y1="902.0" x2="869.4" y2="889.5" stroke-width="5.8"/>
<line x1="918.2" y1="902.0" x2="918.2" y2="884.7" stroke-width="5.8"/>
<line x1="967.0" y1="902.0" x2="967.0" y2="889.5" stroke-width="5.8"/>
<line x1="1015.8" y1="902.0" x2="1015.8" y2="889.5" stroke-width="5.8"/>
<line x1="1064.7" y1="902.0" x2="1064.7" y2="889.5" stroke-width="5.8"/>
<line x1="1113.5" y1="902.0" x2="1113.5" y2="889.5" stroke-width="5.8"/>
<line x1="1162.3" y1="902.0" x2="1162.3" y2="884.7" stroke-width="5.8"/>
<line x1="1211.1" y1="902.0" x2="1211.1" y2="889.5" stroke-width="5.8"/>
<line x1="1259.9" y1="902.0" x2="1259.9" y2="889.5" stroke-width="5.8"/>
<line x1="1308.7" y1="902.0" x2="1308.7" y2="889.5" stroke-width="5.8"/>
<line x1="1357.5" y1="902.0" x2="1357.5" y2="889.5" stroke-width="5.8"/>
<line x1="1406.3" y1="902.0" x2="1406.3" y2="884.7" stroke-width="5.8"/>
<line x1="1455.2" y1="902.0" x2="1455.2" y2="889.5" stroke-width="5.8"/>
<line x1="1504.0" y1="902.0" x2="1504.0" y2="889.5" stroke-width="5.8"/>
<line x1="1552.8" y1="902.0" x2="1552.8" y2="889.5" stroke-width="5.8"/>
<line x1="1601.6" y1="902.0" x2="1601.6" y2="889.5" stroke-width="5.8"/>
</g>
<g fill="none" stroke-linecap="butt" stroke-linejoin="round">
<path d="M186.5,95.4 C187.7,95.5 191.5,95.5 193.5,96.2 C195.5,96.9 196.9,98.1 198.5,99.6 C200.1,101.1 200.9,100.8 203.3,105.0 C205.7,109.2 209.6,118.2 213.0,125.0 C216.4,131.8 219.5,139.4 223.6,146.0 C227.7,152.6 232.5,158.5 237.6,164.5 C242.7,170.5 248.6,176.6 254.3,182.0 C260.0,187.4 265.6,192.1 271.9,197.0 C278.2,201.9 285.7,207.2 292.0,211.6 C298.3,216.0 302.8,219.3 309.5,223.6 C316.2,227.9 325.2,233.5 332.0,237.6 C338.8,241.7 343.5,244.1 350.3,248.1 C357.1,252.1 365.9,257.8 372.7,261.5 C379.5,265.2 384.0,266.9 391.0,270.6 C398.0,274.4 407.9,280.4 414.9,284.0 C421.9,287.6 426.2,289.1 433.2,292.4 C440.2,295.7 447.8,299.5 457.0,304.0 C466.2,308.5 475.9,313.6 488.3,319.4 C500.7,325.2 517.0,332.3 531.4,338.7 C545.8,345.1 560.3,351.7 574.9,358.0 C589.5,364.3 604.2,370.5 618.8,376.5 C633.3,382.5 640.4,385.0 662.2,394.0 C684.0,403.0 727.6,421.3 749.6,430.3 C771.6,439.3 779.4,442.0 794.0,448.0 C808.6,454.0 822.9,460.6 837.5,466.4 C852.1,472.2 867.0,477.3 881.8,483.0 C896.6,488.7 911.5,494.8 926.2,500.6 C940.9,506.4 955.3,512.0 970.0,517.8 C984.7,523.6 999.8,529.4 1014.5,535.3 C1029.2,541.1 1043.8,547.0 1058.4,552.9 C1073.0,558.8 1087.7,564.6 1102.3,570.5 C1116.9,576.4 1131.6,582.4 1146.2,588.5 C1160.8,594.6 1175.6,600.7 1190.1,606.9 C1204.6,613.1 1218.6,619.4 1233.1,625.6 C1247.6,631.8 1262.8,637.7 1277.3,644.0 C1291.8,650.3 1305.9,656.7 1320.3,663.2 C1334.7,669.7 1348.5,676.0 1363.4,683.0 C1378.3,690.0 1401.9,701.6 1409.6,705.3" stroke="#a4a4a4" stroke-width="5.9" stroke-dasharray="24.2 23.15" stroke-dashoffset="3.6"/>
<path d="M185.3,148.0 C185.7,150.9 186.1,159.6 187.6,165.4 C189.1,171.2 191.4,177.7 194.2,183.0 C197.0,188.3 200.1,192.0 204.6,197.4 C209.1,202.8 214.9,209.8 221.0,215.6 C227.1,221.4 234.2,226.9 241.0,232.1 C247.8,237.2 254.8,241.8 262.0,246.5 C269.2,251.2 276.8,256.0 284.0,260.3 C291.2,264.6 297.3,267.8 305.0,272.1 C312.7,276.4 322.3,281.9 330.0,286.0 C337.7,290.1 344.0,293.1 351.0,296.7 C358.0,300.3 364.7,303.9 372.0,307.5 C379.3,311.1 387.0,314.8 395.0,318.6 C403.0,322.4 412.2,326.6 420.0,330.3 C427.8,334.0 434.7,337.3 442.0,340.6 C449.3,343.9 456.3,346.8 464.0,350.2 C471.7,353.6 480.0,357.6 488.0,361.2 C496.0,364.8 502.5,367.6 512.0,371.6 C521.5,375.6 533.3,380.3 545.0,385.0 C556.7,389.7 567.8,394.1 582.0,399.9 C596.2,405.7 614.3,413.3 630.0,419.6 C645.7,425.9 660.7,431.6 676.0,437.6 C691.3,443.6 706.3,449.5 722.0,455.6 C737.7,461.7 755.8,469.0 770.0,474.4 C784.2,479.8 795.3,483.7 807.0,488.1 C818.7,492.5 827.8,495.9 840.0,500.7 C852.2,505.5 866.7,511.4 880.0,516.7 C893.3,522.0 903.3,526.0 920.0,532.6 C936.7,539.2 963.3,549.8 980.0,556.3 C996.7,562.8 1006.7,566.4 1020.0,571.4 C1033.3,576.4 1046.7,581.4 1060.0,586.5 C1073.3,591.6 1085.0,596.2 1100.0,602.2 C1115.0,608.2 1134.2,615.9 1150.0,622.5 C1165.8,629.1 1179.7,635.1 1195.0,641.8 C1210.3,648.5 1227.8,656.4 1242.0,662.6 C1256.2,668.8 1268.7,674.0 1280.0,679.0 C1291.3,684.0 1300.8,688.3 1310.0,692.6 C1319.2,696.9 1326.7,700.7 1335.0,704.7 C1343.3,708.7 1348.6,711.1 1360.0,716.6 C1371.4,722.1 1396.2,734.4 1403.5,737.9" stroke="#0e70d0" stroke-width="6.3" stroke-dasharray="50.8 27.9 0.1 28 45.5 27.9 0.1 28 45.5 27.9 0.1 28 45.5 27.9 0.1 28 45.5 27.9 0.1 28 45.5 27.9 0.1 28 45.5 27.9 0.1 28 45.5 27.9 0.1 28 45.5 27.9 0.1 28 45.5 27.9 0.1 28 45.5 27.9 0.1 28 45.5 27.9 0.1 28 45.5 27.9 0.1 28 45.5 27.9 0.1 28 45.5 27.9 0.1 28 45.5 27.9 0.1 28" stroke-linecap="round"/>
<path d="M186.5,138.0 C186.8,140.0 187.1,145.7 188.0,150.0 C188.9,154.3 190.4,158.9 192.0,163.6 C193.6,168.3 195.3,173.7 197.5,178.0 C199.7,182.3 202.3,186.2 205.1,189.5 C207.8,192.8 210.2,194.1 214.0,197.5 C217.8,200.9 223.4,205.9 228.1,209.8 C232.8,213.7 237.5,217.6 242.2,221.0 C246.9,224.4 251.5,227.4 256.2,230.5 C260.9,233.6 265.6,236.8 270.3,239.7 C275.0,242.6 279.6,245.4 284.3,248.1 C289.0,250.8 292.4,252.5 298.4,255.8 C304.3,259.1 306.4,260.4 320.0,267.8 C333.6,275.2 360.0,289.6 380.0,300.0 C400.0,310.4 420.0,320.6 440.0,330.5 C460.0,340.4 480.0,350.4 500.0,359.3 C520.0,368.2 540.0,375.7 560.0,384.0 C580.0,392.3 600.0,400.7 620.0,408.9 C640.0,417.1 660.0,425.2 680.0,433.4 C700.0,441.6 720.0,449.7 740.0,458.0 C760.0,466.3 780.0,474.9 800.0,483.2 C820.0,491.5 840.0,499.7 860.0,507.9 C880.0,516.1 900.0,524.2 920.0,532.3 C940.0,540.4 960.0,548.5 980.0,556.6 C1000.0,564.7 1020.0,572.7 1040.0,581.0 C1060.0,589.3 1080.0,598.1 1100.0,606.5 C1120.0,614.9 1140.0,622.9 1160.0,631.5 C1180.0,640.1 1200.0,648.9 1220.0,658.0 C1240.0,667.1 1266.7,680.0 1280.0,686.3 C1293.3,692.6 1286.7,689.4 1300.0,696.0 C1313.3,702.6 1342.3,717.1 1360.0,726.1 C1377.7,735.1 1398.7,746.2 1406.4,750.2" stroke="#f27f2e" stroke-width="6.2" stroke-linecap="round"/>
</g>
<g>
<text transform="translate(89.04,65.50) scale(0.9465,1)" font-size="56.5">2.5</text>
<text transform="translate(88.97,221.90) scale(0.9763,1)" font-size="56.5">2.0</text>
<text transform="translate(91.93,393.30) scale(0.8940,1)" font-size="56.5">1.5</text>
<text transform="translate(91.78,574.00) scale(0.9251,1)" font-size="56.5">1.0</text>
<text transform="translate(92.29,745.50) scale(0.9238,1)" font-size="56.5">0.5</text>
<text transform="translate(112.93,914.90) scale(0.9079,1)" font-size="56.5">0</text>
</g>
<g>
<text transform="translate(170.18,984.70) scale(1.0000,1)" font-size="56.5">0</text>
<text transform="translate(387.41,984.70) scale(1.0000,1)" font-size="56.5">100</text>
<text transform="translate(630.61,984.70) scale(1.0000,1)" font-size="56.5">200</text>
<text transform="translate(876.14,984.70) scale(1.0000,1)" font-size="56.5">300</text>
<text transform="translate(1120.52,984.70) scale(1.0000,1)" font-size="56.5">400</text>
<text transform="translate(1363.86,984.70) scale(1.0000,1)" font-size="56.5">500</text>
<text transform="translate(1607.48,984.70) scale(1.0000,1)" font-size="56.5">600</text>
</g>
<text transform="translate(823.56,1058.60) scale(0.9996,1)" font-size="56.5">Time (s)</text>
<text transform="translate(53.7,0) rotate(-90)" font-size="56.5"><tspan x="-632.76" textLength="189.36" lengthAdjust="spacingAndGlyphs">Contour</tspan> <tspan x="-434.81" textLength="126.48" lengthAdjust="spacingAndGlyphs">(mm)</tspan></text>
<g>
<rect x="1015.1" y="58.9" width="606.4" height="262.7" rx="1" fill="#fff" stroke="#0d0d0d" stroke-width="4.3"/>
<path d="M1049.7,114.6 H1099 M1124.6,114.6 h0.6 M1151,114.6 H1200.4" stroke="#4472c4" stroke-width="6" stroke-linecap="round" fill="none"/>
<path d="M1049.5,198.3 H1233" stroke="#ed7d31" stroke-width="6" stroke-linecap="round" fill="none"/>
<path d="M1047.5,273 H1217" stroke="#b0b0b0" stroke-width="6" stroke-dasharray="26 21.8" fill="none"/>
<text transform="translate(1246.30,131.50) scale(0.9835,1)" font-size="56.5">Spherical</text>
<text transform="translate(1248.94,217.20) scale(0.9479,1)" font-size="56.5">Elliptical</text>
<text y="289.8" font-size="56.5"><tspan x="1250.04" textLength="190.93" lengthAdjust="spacingAndGlyphs">Irregular</tspan> <tspan x="1460.32" textLength="132.43" lengthAdjust="spacingAndGlyphs">shape</tspan></text>
</g>
</g>
</svg>
</body>
</html>
